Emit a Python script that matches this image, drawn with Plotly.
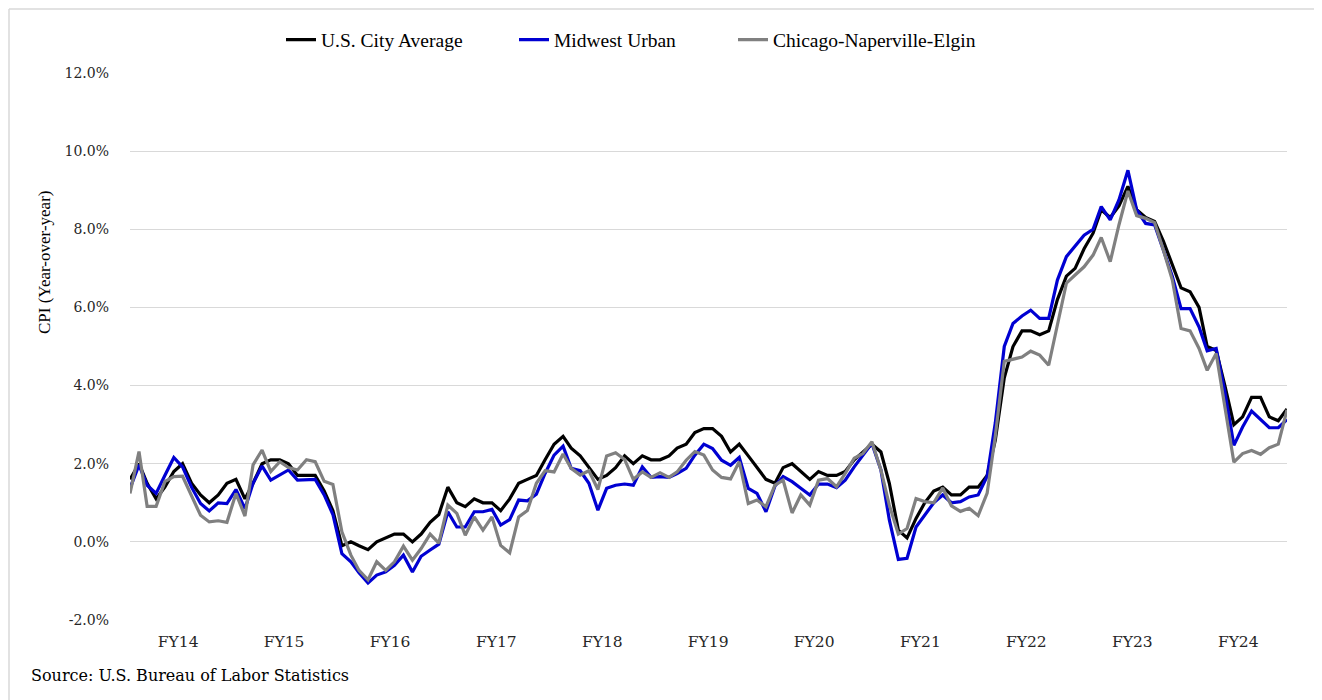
import pandas as pd
import plotly.graph_objects as go

# Monthly CPI year-over-year % change, Jan 2013 - Dec 2023
months = pd.date_range("2013-01-01", periods=132, freq="MS")

us_city_average = [
    1.6, 2.0, 1.5, 1.1, 1.4, 1.8, 2.0, 1.5, 1.2, 1.0, 1.2, 1.5,
    1.6, 1.1, 1.5, 2.0, 2.1, 2.1, 2.0, 1.7, 1.7, 1.7, 1.3, 0.8,
    -0.1, 0.0, -0.1, -0.2, 0.0, 0.1, 0.2, 0.2, 0.0, 0.2, 0.5, 0.7,
    1.4, 1.0, 0.9, 1.1, 1.0, 1.0, 0.8, 1.1, 1.5, 1.6, 1.7, 2.1,
    2.5, 2.7, 2.4, 2.2, 1.9, 1.6, 1.7, 1.9, 2.2, 2.0, 2.2, 2.1,
    2.1, 2.2, 2.4, 2.5, 2.8, 2.9, 2.9, 2.7, 2.3, 2.5, 2.2, 1.9,
    1.6, 1.5, 1.9, 2.0, 1.8, 1.6, 1.8, 1.7, 1.7, 1.8, 2.1, 2.3,
    2.5, 2.3, 1.5, 0.3, 0.1, 0.6, 1.0, 1.3, 1.4, 1.2, 1.2, 1.4,
    1.4, 1.7, 2.6, 4.2, 5.0, 5.4, 5.4, 5.3, 5.4, 6.2, 6.8, 7.0,
    7.5, 7.9, 8.5, 8.3, 8.6, 9.1, 8.5, 8.3, 8.2, 7.7, 7.1, 6.5,
    6.4, 6.0, 5.0, 4.9, 4.0, 3.0, 3.2, 3.7, 3.7, 3.2, 3.1, 3.4,
]

midwest_urban = [
    1.37, 1.97, 1.45, 1.24, 1.70, 2.16, 1.92, 1.40, 0.98, 0.79, 1.00, 0.98,
    1.34, 0.85, 1.50, 1.94, 1.58, 1.71, 1.84, 1.58, 1.60, 1.60, 1.20, 0.70,
    -0.30, -0.51, -0.79, -1.05, -0.85, -0.77, -0.60, -0.34, -0.77, -0.37, -0.21, -0.06,
    0.77, 0.38, 0.38, 0.77, 0.77, 0.83, 0.43, 0.57, 1.07, 1.05, 1.22, 1.75,
    2.22, 2.45, 1.88, 1.82, 1.50, 0.81, 1.37, 1.45, 1.48, 1.45, 1.92, 1.65,
    1.67, 1.65, 1.75, 1.88, 2.22, 2.50, 2.39, 2.09, 1.96, 2.16, 1.37, 1.24,
    0.77, 1.43, 1.67, 1.54, 1.37, 1.20, 1.48, 1.48, 1.39, 1.58, 1.92, 2.22,
    2.52, 1.84, 0.56, -0.45, -0.42, 0.38, 0.68, 1.00, 1.20, 1.00, 1.03, 1.15,
    1.20, 1.68, 3.04, 5.00, 5.59, 5.78, 5.93, 5.72, 5.72, 6.70, 7.30, 7.56,
    7.85, 8.00, 8.58, 8.24, 8.75, 9.51, 8.50, 8.15, 8.11, 7.47, 6.79, 5.97,
    5.97, 5.50, 4.89, 4.95, 3.84, 2.47, 2.94, 3.35, 3.13, 2.92, 2.92, 3.13,
]

chicago_naperville_elgin = [
    1.24, 2.31, 0.91, 0.91, 1.54, 1.67, 1.68, 1.20, 0.68, 0.51, 0.54, 0.50,
    1.24, 0.66, 1.97, 2.35, 1.80, 2.05, 1.90, 1.84, 2.10, 2.05, 1.55, 1.47,
    0.26, -0.34, -0.73, -0.97, -0.51, -0.73, -0.51, -0.11, -0.47, -0.17, 0.20, -0.03,
    0.94, 0.73, 0.17, 0.64, 0.30, 0.64, -0.09, -0.28, 0.64, 0.80, 1.50, 1.82,
    1.79, 2.25, 1.88, 1.71, 1.82, 1.34, 2.20, 2.28, 2.11, 1.60, 1.79, 1.65,
    1.77, 1.65, 1.79, 2.09, 2.31, 2.22, 1.84, 1.65, 1.61, 2.05, 0.98, 1.07,
    0.90, 1.45, 1.58, 0.74, 1.20, 0.94, 1.58, 1.62, 1.41, 1.75, 2.14, 2.26,
    2.56, 1.84, 0.94, 0.20, 0.34, 1.11, 1.03, 1.00, 1.38, 0.92, 0.78, 0.86,
    0.67, 1.25, 2.70, 4.62, 4.67, 4.73, 4.88, 4.78, 4.52, 5.55, 6.62, 6.83,
    7.04, 7.34, 7.79, 7.17, 8.11, 8.98, 8.35, 8.28, 8.17, 7.47, 6.70, 5.46,
    5.40, 4.95, 4.39, 4.82, 3.45, 2.04, 2.26, 2.34, 2.24, 2.41, 2.50, 3.38,
]

fy_labels = ["FY14", "FY15", "FY16", "FY17", "FY18", "FY19", "FY20", "FY21", "FY22", "FY23", "FY24"]
fy_years = list(range(2013, 2024))
y_tick_values = [-2, 0, 2, 4, 6, 8, 10, 12]
y_tick_labels = ["-2.0%", "0.0%", "2.0%", "4.0%", "6.0%", "8.0%", "10.0%", "12.0%"]

series = [
    ("U.S. City Average", us_city_average, "#000000", "legend"),
    ("Midwest Urban", midwest_urban, "#0000D2", "legend2"),
    ("Chicago-Naperville-Elgin", chicago_naperville_elgin, "#808080", "legend3"),
]

# The page body adds an 8px offset; the figure is sized to fill the rest of the window.
OFF = 8
PAGE_W, PAGE_H = 1322, 700
# plot-area geometry in page pixels
L, R, T, B = 130, 1287, 73, 620
W, H = R - L, B - T


def px_x(p):
    return (p - L) / W


def px_y(p):
    return (B - p) / H


fig = go.Figure()
for name, vals, color, leg in series:
    fig.add_trace(go.Scatter(
        x=months, y=vals, mode="lines", name=name,
        line=dict(color=color, width=3.2), legend=leg,
    ))

legend_font = dict(family="Liberation Serif", size=19.5, color="#000000")
legend_x = [281, 514, 733]
for key, xp in zip(["legend", "legend2", "legend3"], legend_x):
    fig.layout[key] = dict(
        x=px_x(xp), y=px_y(40), xanchor="left", yanchor="middle",
        orientation="h", font=legend_font, bgcolor="rgba(0,0,0,0)",
        itemwidth=30,
    )

ytick_font = dict(family="DejaVu Serif", size=14, color="#262626")
xtick_font = dict(family="DejaVu Serif", size=15.5, color="#262626")

fig.update_layout(
    width=PAGE_W - OFF, height=PAGE_H - OFF,
    margin=dict(l=L - OFF, r=PAGE_W - R, t=T - OFF, b=PAGE_H - B, autoexpand=False),
    paper_bgcolor="#ffffff", plot_bgcolor="#ffffff",
    showlegend=True,
    xaxis=dict(
        range=[months[0], months[-1]],
        tickvals=[pd.Timestamp(f"{y}-06-16") for y in fy_years],
        ticktext=fy_labels,
        showgrid=False, zeroline=False, showline=False, ticks="",
        tickfont=xtick_font, ticklabelstandoff=10,
    ),
    yaxis=dict(
        range=[-2, 12],
        tickvals=y_tick_values, ticktext=y_tick_labels,
        showgrid=True, gridcolor="#d9d9d9", gridwidth=1.2,
        zeroline=False, showline=False, ticks="",
        tickfont=ytick_font, ticklabelstandoff=20,
    ),
    annotations=[
        dict(text="CPI (Year-over-year)", xref="paper", yref="paper",
             x=px_x(45), y=px_y(263), textangle=-90, showarrow=False,
             font=dict(family="Liberation Serif", size=17, color="#000000"),
             xanchor="center", yanchor="middle"),
        dict(text="Source: U.S. Bureau of Labor Statistics", xref="paper", yref="paper",
             x=px_x(29), y=px_y(675), showarrow=False, xanchor="left", yanchor="middle",
             font=dict(family="DejaVu Serif", size=16, color="#000000")),
    ],
    shapes=[
        dict(type="line", xref="paper", yref="paper", x0=px_x(9), x1=px_x(9),
             y0=px_y(9), y1=px_y(700), line=dict(color="#d9d9d9", width=1.5)),
        dict(type="line", xref="paper", yref="paper", x0=px_x(9), x1=px_x(1322),
             y0=px_y(9), y1=px_y(9), line=dict(color="#d9d9d9", width=1.5)),
    ],
)

fig.write_html("out.html")
